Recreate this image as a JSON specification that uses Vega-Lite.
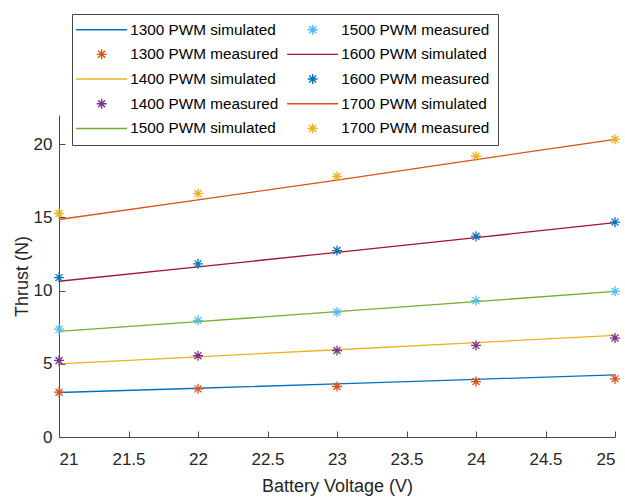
{
  "$schema": "https://vega.github.io/schema/vega-lite/v6.json",
  "autosize": {"type": "none"},
  "width": 556,
  "height": 322,
  "padding": {"left": 59, "top": 115, "right": 10, "bottom": 64},
  "background": "white",
  "config": {
    "view": {"stroke": null},
    "font": "Liberation Sans",
    "axis": {
      "grid": false,
      "domainColor": "#4a4a4a",
      "domainWidth": 1,
      "tickColor": "#4a4a4a",
      "tickSize": -6,
      "labelFont": "Liberation Sans",
      "labelFontSize": 17,
      "labelColor": "#262626",
      "titleFont": "Liberation Sans",
      "titleFontSize": 18,
      "titleFontWeight": "normal",
      "titleColor": "#262626"
    },
    "legend": {
      "orient": "none", "legendX": 13, "legendY": -101, "columns": 2, "title": null,
      "fillColor": "white", "strokeColor": "#444", "padding": 8,
      "labelFont": "Liberation Sans", "labelFontSize": 15.3, "labelColor": "#000",
      "symbolSize": 100, "symbolStrokeWidth": 1.4, "symbolOffset": 14, "labelOffset": 21,
      "rowPadding": 7.7, "columnPadding": 5
    }
  },
  "data": {
    "values": [
      {"V": 21, "T": 3.04, "series": "1300 PWM simulated", "kind": "sim"},
      {"V": 22, "T": 3.33, "series": "1300 PWM simulated", "kind": "sim"},
      {"V": 23, "T": 3.63, "series": "1300 PWM simulated", "kind": "sim"},
      {"V": 24, "T": 3.94, "series": "1300 PWM simulated", "kind": "sim"},
      {"V": 25, "T": 4.25, "series": "1300 PWM simulated", "kind": "sim"},
      {"V": 21, "T": 5.0, "series": "1400 PWM simulated", "kind": "sim"},
      {"V": 22, "T": 5.48, "series": "1400 PWM simulated", "kind": "sim"},
      {"V": 23, "T": 5.96, "series": "1400 PWM simulated", "kind": "sim"},
      {"V": 24, "T": 6.45, "series": "1400 PWM simulated", "kind": "sim"},
      {"V": 25, "T": 6.94, "series": "1400 PWM simulated", "kind": "sim"},
      {"V": 21, "T": 7.21, "series": "1500 PWM simulated", "kind": "sim"},
      {"V": 22, "T": 7.88, "series": "1500 PWM simulated", "kind": "sim"},
      {"V": 23, "T": 8.56, "series": "1500 PWM simulated", "kind": "sim"},
      {"V": 24, "T": 9.25, "series": "1500 PWM simulated", "kind": "sim"},
      {"V": 25, "T": 9.95, "series": "1500 PWM simulated", "kind": "sim"},
      {"V": 21, "T": 10.64, "series": "1600 PWM simulated", "kind": "sim"},
      {"V": 22, "T": 11.62, "series": "1600 PWM simulated", "kind": "sim"},
      {"V": 23, "T": 12.62, "series": "1600 PWM simulated", "kind": "sim"},
      {"V": 24, "T": 13.62, "series": "1600 PWM simulated", "kind": "sim"},
      {"V": 25, "T": 14.64, "series": "1600 PWM simulated", "kind": "sim"},
      {"V": 21, "T": 14.86, "series": "1700 PWM simulated", "kind": "sim"},
      {"V": 22, "T": 16.2, "series": "1700 PWM simulated", "kind": "sim"},
      {"V": 23, "T": 17.55, "series": "1700 PWM simulated", "kind": "sim"},
      {"V": 24, "T": 18.95, "series": "1700 PWM simulated", "kind": "sim"},
      {"V": 25, "T": 20.34, "series": "1700 PWM simulated", "kind": "sim"},
      {"V": 21, "T": 3.06, "series": "1300 PWM measured", "kind": "meas"},
      {"V": 22, "T": 3.29, "series": "1300 PWM measured", "kind": "meas"},
      {"V": 23, "T": 3.45, "series": "1300 PWM measured", "kind": "meas"},
      {"V": 24, "T": 3.79, "series": "1300 PWM measured", "kind": "meas"},
      {"V": 25, "T": 3.97, "series": "1300 PWM measured", "kind": "meas"},
      {"V": 21, "T": 5.23, "series": "1400 PWM measured", "kind": "meas"},
      {"V": 22, "T": 5.55, "series": "1400 PWM measured", "kind": "meas"},
      {"V": 23, "T": 5.91, "series": "1400 PWM measured", "kind": "meas"},
      {"V": 24, "T": 6.26, "series": "1400 PWM measured", "kind": "meas"},
      {"V": 25, "T": 6.76, "series": "1400 PWM measured", "kind": "meas"},
      {"V": 21, "T": 7.37, "series": "1500 PWM measured", "kind": "meas"},
      {"V": 22, "T": 7.97, "series": "1500 PWM measured", "kind": "meas"},
      {"V": 23, "T": 8.54, "series": "1500 PWM measured", "kind": "meas"},
      {"V": 24, "T": 9.32, "series": "1500 PWM measured", "kind": "meas"},
      {"V": 25, "T": 9.95, "series": "1500 PWM measured", "kind": "meas"},
      {"V": 21, "T": 10.89, "series": "1600 PWM measured", "kind": "meas"},
      {"V": 22, "T": 11.83, "series": "1600 PWM measured", "kind": "meas"},
      {"V": 23, "T": 12.74, "series": "1600 PWM measured", "kind": "meas"},
      {"V": 24, "T": 13.72, "series": "1600 PWM measured", "kind": "meas"},
      {"V": 25, "T": 14.68, "series": "1600 PWM measured", "kind": "meas"},
      {"V": 21, "T": 15.27, "series": "1700 PWM measured", "kind": "meas"},
      {"V": 22, "T": 16.64, "series": "1700 PWM measured", "kind": "meas"},
      {"V": 23, "T": 17.8, "series": "1700 PWM measured", "kind": "meas"},
      {"V": 24, "T": 19.18, "series": "1700 PWM measured", "kind": "meas"},
      {"V": 25, "T": 20.34, "series": "1700 PWM measured", "kind": "meas"}
    ]
  },
  "encoding": {
    "x": {
      "field": "V", "type": "quantitative",
      "scale": {"domain": [21, 25], "nice": false, "zero": false},
      "axis": {"values": [21, 21.5, 22, 22.5, 23, 23.5, 24, 24.5, 25], "format": "~g", "labelPadding": 20, "title": "Battery Voltage (V)", "titlePadding": 10}
    },
    "y": {
      "field": "T", "type": "quantitative",
      "scale": {"domain": [0, 22], "nice": false},
      "axis": {"values": [0, 5, 10, 15, 20], "labelPadding": 13, "title": "Thrust (N)", "titlePadding": 2}
    },
    "color": {
      "field": "series", "type": "nominal",
      "scale": {
        "domain": ["1300 PWM simulated", "1300 PWM measured", "1400 PWM simulated", "1400 PWM measured", "1500 PWM simulated", "1500 PWM measured", "1600 PWM simulated", "1600 PWM measured", "1700 PWM simulated", "1700 PWM measured"],
        "range": ["#0072BD", "#D95319", "#EDB120", "#7E2F8E", "#77AC30", "#4DBEEE", "#A2142F", "#0072BD", "#D95319", "#EDB120"]
      }
    }
  },
  "layer": [
    {
      "transform": [{"filter": "datum.kind === 'sim'"}],
      "mark": {"type": "line", "strokeWidth": 1.3, "clip": false},
      "encoding": {
        "detail": {"field": "series"}
      }
    },
    {
      "transform": [{"filter": "datum.kind === 'meas'"}],
      "mark": {"type": "point", "filled": false, "size": 100, "strokeWidth": 1.3, "opacity": 1, "clip": false},
      "encoding": {
        "shape": {
          "field": "series", "type": "nominal",
          "scale": {
            "domain": ["1300 PWM simulated", "1300 PWM measured", "1400 PWM simulated", "1400 PWM measured", "1500 PWM simulated", "1500 PWM measured", "1600 PWM simulated", "1600 PWM measured", "1700 PWM simulated", "1700 PWM measured"],
            "range": [
              "M-5.1,0L5.1,0",
              "M-1,0L1,0M0,-1L0,1M-0.7,-0.7L0.7,0.7M-0.7,0.7L0.7,-0.7",
              "M-5.1,0L5.1,0",
              "M-1,0L1,0M0,-1L0,1M-0.7,-0.7L0.7,0.7M-0.7,0.7L0.7,-0.7",
              "M-5.1,0L5.1,0",
              "M-1,0L1,0M0,-1L0,1M-0.7,-0.7L0.7,0.7M-0.7,0.7L0.7,-0.7",
              "M-5.1,0L5.1,0",
              "M-1,0L1,0M0,-1L0,1M-0.7,-0.7L0.7,0.7M-0.7,0.7L0.7,-0.7",
              "M-5.1,0L5.1,0",
              "M-1,0L1,0M0,-1L0,1M-0.7,-0.7L0.7,0.7M-0.7,0.7L0.7,-0.7"
            ]
          }
        }
      }
    }
  ]
}
